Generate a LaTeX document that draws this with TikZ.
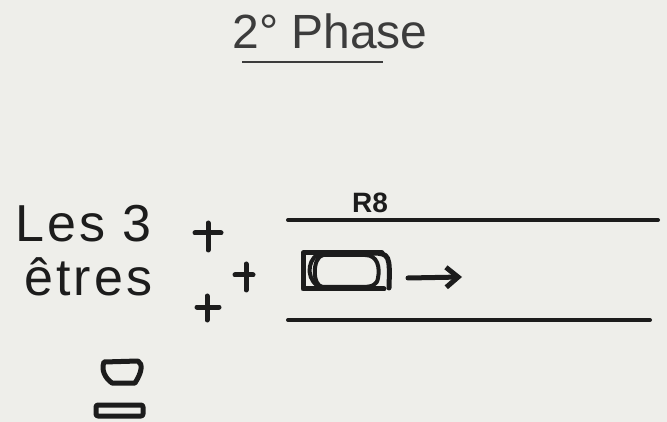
\documentclass[tikz,border=0pt]{standalone}
\usepackage{fontspec}
\setmainfont{Liberation Sans}
\newfontfamily\handfont[LetterSpace=6]{Liberation Sans}
\usetikzlibrary{arrows.meta}
\definecolor{paper}{RGB}{238,238,234}
\definecolor{ink}{RGB}{28,28,28}
\definecolor{typeink}{RGB}{60,60,60}
\begin{document}
\begin{tikzpicture}[x=1pt,y=-1pt,
  hand/.style={draw=ink,line width=5pt,line cap=round,line join=round},
  handtext/.style={inner sep=0pt,text=ink,font=\handfont\fontsize{52}{60}\selectfont},
  rule/.style={draw=ink,line width=4pt,line cap=round}]
\fill[paper] (0,0) rectangle (667,422);
\useasboundingbox (0,0) rectangle (667,422);
% title
\node[anchor=base,inner sep=0pt,text=typeink,font=\fontsize{48}{56}\selectfont] (title) at (330,49) {2° Phase};
\draw[draw=typeink,line width=2.5pt] (242,62) -- (383,62);
% left words
\node[handtext,anchor=base west] (les) at (15,242) {Les 3};
\node[handtext,anchor=base west] (etres) at (24,295) {êtres};
% plus signs
\draw[hand] (195,233) -- (221,233) (208,223) -- (208,250);
\draw[hand] (235,275) -- (253,275) (246,264) -- (246,290);
\draw[hand] (197,307) -- (219,307) (207,296) -- (207,320);
% right
\node[inner sep=0pt,text=ink,font=\fontsize{28}{32}\selectfont\bfseries] (r8) at (370,203) {R8};
\draw[rule] (288,220) -- (658,220);
\draw[rule] (288,320) -- (650,320);
% figure
\draw[hand] (382,253) -- (303,253) -- (303,289) -- (384,289);
\draw[hand] (372,253) .. controls (390,253) and (390,256) .. (389,288);
\draw[hand,line width=4pt] (318,254) .. controls (306,262) and (306,282) .. (323,289);
\draw[hand,line width=4pt] (323,255) -- (365,255) .. controls (378,255) and (380,268) .. (378,278) .. controls (377,285) and (372,287) .. (362,287) -- (323,287) .. controls (312,287) and (312,257) .. (323,255);
\coordinate (a1) at (408,278);
\coordinate (a2) at (462,277);
\draw[hand,-{Straight Barb[length=12pt,width=20pt,line width=5pt]}] (a1) -- (a2);
% small figures
\draw[hand] (104,362) -- (138,361) .. controls (143,364) and (142,372) .. (135,383) -- (112,383) .. controls (105,378) and (101,370) .. (104,362) -- cycle;
\draw[hand,rounded corners=2pt] (96,405) rectangle (143,416);
\end{tikzpicture}
\end{document}
